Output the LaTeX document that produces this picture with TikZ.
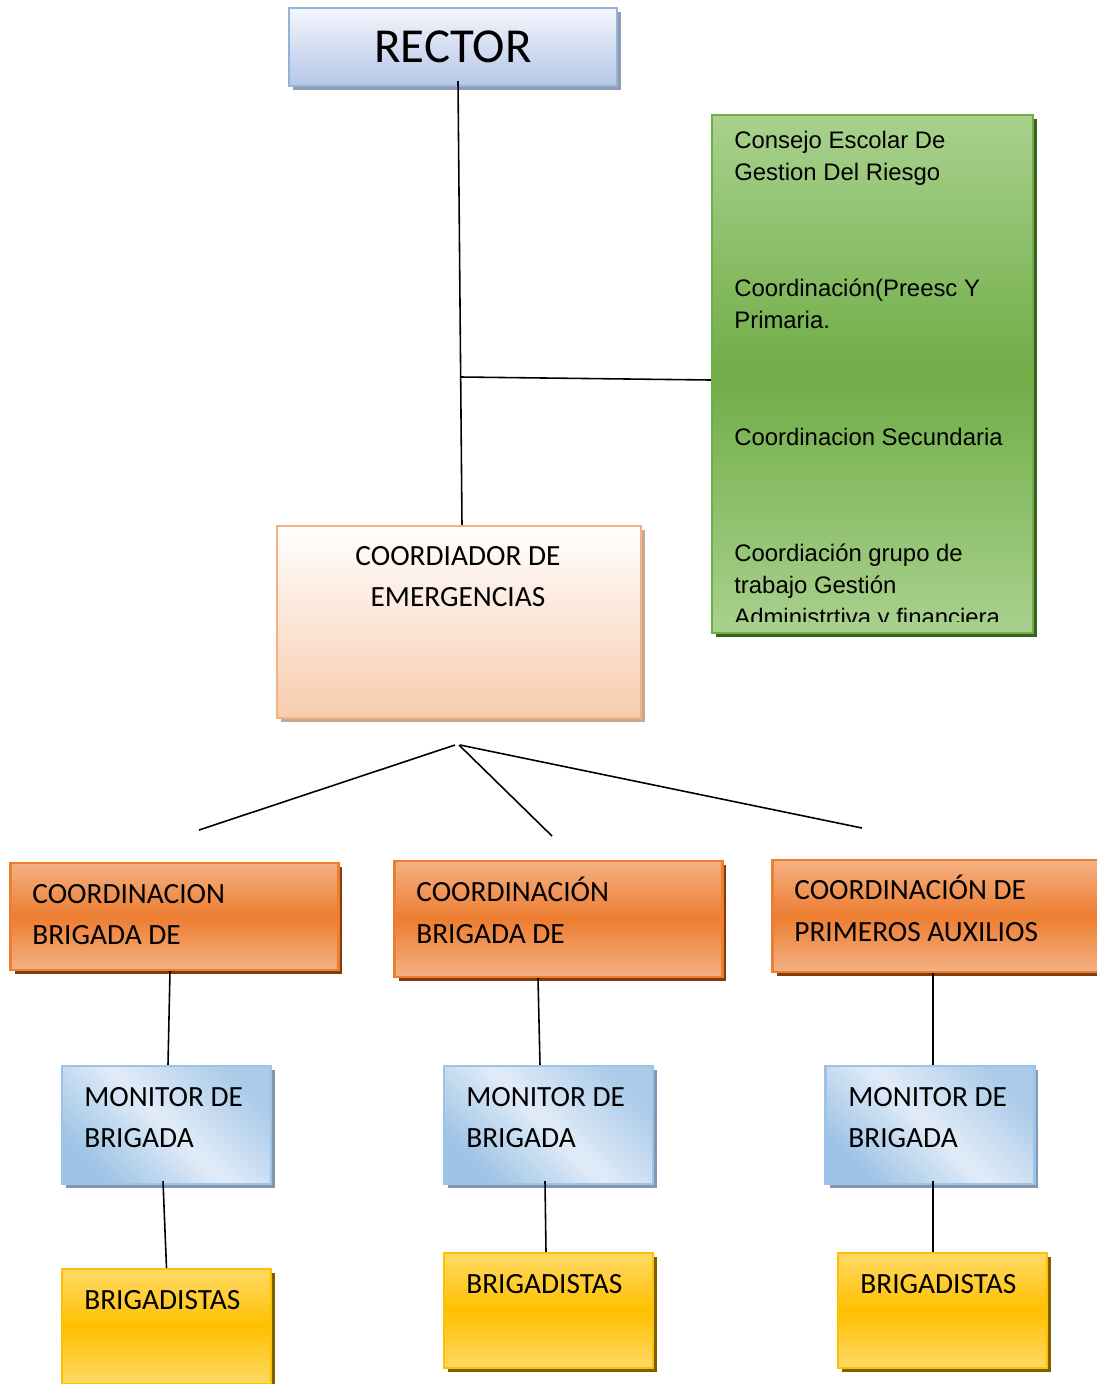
\documentclass[tikz,border=0pt]{standalone}
\usepackage{fontspec}
\setmainfont{Carlito}
\newfontfamily\arialfont{Liberation Sans}
\usetikzlibrary{shadows,positioning}

\definecolor{rectorT}{HTML}{F4F6FC}
\definecolor{rectorB}{HTML}{B4C6E7}
\definecolor{rectorL}{HTML}{95B3D7}
\definecolor{rectorS}{HTML}{8E9BB3}
\definecolor{greenL}{HTML}{A9D18E}
\definecolor{greenM}{HTML}{70AD47}
\definecolor{greenS}{HTML}{3B6121}
\definecolor{peachB}{HTML}{F8CBAD}
\definecolor{peachL}{HTML}{F4B183}
\definecolor{peachS}{HTML}{C6A999}
\definecolor{orangeL}{HTML}{F4B183}
\definecolor{orangeM}{HTML}{ED7D31}
\definecolor{orangeS}{HTML}{843C0C}
\definecolor{blueD}{HTML}{9DC3E6}
\definecolor{blueL}{HTML}{E2ECF8}
\definecolor{blueS}{HTML}{8497B0}
\definecolor{yellowL}{HTML}{FFD966}
\definecolor{yellowM}{HTML}{FFC000}
\definecolor{yellowS}{HTML}{7F6000}

\begin{document}
\begin{tikzpicture}[x=0.02cm,y=-0.02cm,
  shbox/.style={rectangle,inner sep=0pt,line width=1.4pt,
    drop shadow={shadow xshift=0.08cm,shadow yshift=-0.08cm,fill=#1,opacity=1}},
  rectorbox/.style={shbox=rectorS,draw=rectorL,top color=rectorT,bottom color=rectorB,
    minimum width=6.56cm,minimum height=1.56cm,font=\fontsize{27.8}{30}\selectfont},
  greenbox/.style={shbox=greenS,draw=greenM,top color=greenL,bottom color=greenL,middle color=greenM,
    minimum width=6.42cm,minimum height=10.36cm},
  coordbox/.style={shbox=peachS,draw=peachL,top color=white,bottom color=peachB,
    minimum width=7.28cm,minimum height=3.84cm},
  orangebox/.style={shbox=orangeS,draw=orangeM,top color=orangeL,bottom color=orangeL,middle color=orangeM,
    minimum width=6.56cm},
  monbox/.style={shbox=blueS,draw=blueD,top color=blueD,bottom color=blueD!80!blueL,middle color=blueL,
    shading angle=135,minimum width=4.18cm,minimum height=2.36cm},
  brigbox/.style={shbox=yellowS,draw=yellowM,top color=yellowL,bottom color=yellowL,middle color=yellowM,
    minimum width=4.18cm,minimum height=2.3cm},
  link/.style={line width=0.9pt},
  txt/.style={anchor=north west,inner sep=0pt,align=left,font=\fontsize{16.7}{23.5}\selectfont},
  gtxt/.style={anchor=north west,inner sep=0pt,align=left,font=\arialfont\fontsize{13.6}{18.1}\selectfont}]
\useasboundingbox (0,0) rectangle (1097,1384);

\node[rectorbox] (rector) at (453,47) {RECTOR};
\node[greenbox] (green) at (872.5,374) {};
\node[coordbox] (coord) at (459,622) {};

\node[orangebox,minimum height=2.14cm] (ol) at (174.5,916.5) {};
\node[orangebox,minimum height=2.32cm] (om) at (558.5,919) {};
\node[orangebox,minimum height=2.24cm] (or) at (936.5,916) {};

\node[monbox] (ml) at (166.5,1125) {};
\node[monbox] (mm) at (548.5,1125) {};
\node[monbox] (mr) at (930,1125) {};

\node[brigbox] (bl) at (166.5,1326.5) {};
\node[brigbox] (bm) at (548.5,1310.5) {};
\node[brigbox] (br) at (942.5,1310.5) {};

\node[gtxt] (g1) at (734,131) {Consejo Escolar De\\Gestion Del Riesgo};
\node[gtxt] (g2) at (734,279) {Coordinación(Preesc Y\\Primaria.};
\node[gtxt] (g3) at (734,428) {Coordinacion Secundaria};
\begin{scope}
\clip (712,530) rectangle (1033,621);
\node[gtxt] (g4) at (734,544) {Coordiación grupo de\\trabajo Gestión\\Administrtiva y financiera};
\end{scope}

\node[txt,anchor=north,align=center] (coordtxt) at (458,546) {COORDIADOR DE\\EMERGENCIAS};
\node[txt] (oltxt) at (32,884) {COORDINACION\\BRIGADA DE};
\node[txt] (omtxt) at (416,877) {COORDINACIÓN\\BRIGADA DE};
\node[txt] (ortxt) at (794,875) {COORDINACIÓN DE\\PRIMEROS AUXILIOS};
\node[txt] (mltxt) at (84,1087) {MONITOR DE\\BRIGADA};
\node[txt] (mmtxt) at (466,1087) {MONITOR DE\\BRIGADA};
\node[txt] (mrtxt) at (848,1087) {MONITOR DE\\BRIGADA};
\node[txt] (bltxt) at (84,1290) {BRIGADISTAS};
\node[txt] (bmtxt) at (466,1274) {BRIGADISTAS};
\node[txt] (brtxt) at (860,1274) {BRIGADISTAS};

\coordinate (jn) at (461,377);
\coordinate (fk) at (457,745);
\coordinate (fl) at (199,830);
\coordinate (fm) at (552,836);
\coordinate (fr) at (862,828);

\draw[link] ([xshift=0.1cm,yshift=0.12cm]rector.south) -- ([xshift=0.06cm]coord.north);
\draw[link] (jn) -- ([yshift=-0.12cm]green.west);
\draw[link] ([xshift=-0.04cm]fk) -- (fl);
\draw[link] ([xshift=0.04cm]fk) -- (fm);
\draw[link] ([xshift=0.06cm]fk) -- (fr);
\draw[link] ([xshift=-0.09cm]ol.south) -- ([xshift=0.03cm]ml.north);
\draw[link] ([xshift=-0.41cm]om.south) -- ([xshift=-0.17cm]mm.north);
\draw[link] ([xshift=-0.07cm]or.south) -- ([xshift=0.06cm]mr.north);
\draw[link] ([xshift=-0.07cm,yshift=0.08cm]ml.south) -- (bl.north);
\draw[link] ([xshift=-0.07cm,yshift=0.08cm]mm.south) -- ([xshift=-0.05cm]bm.north);
\draw[link] ([xshift=0.06cm,yshift=0.08cm]mr.south) -- ([xshift=-0.19cm]br.north);
\end{tikzpicture}
\end{document}
